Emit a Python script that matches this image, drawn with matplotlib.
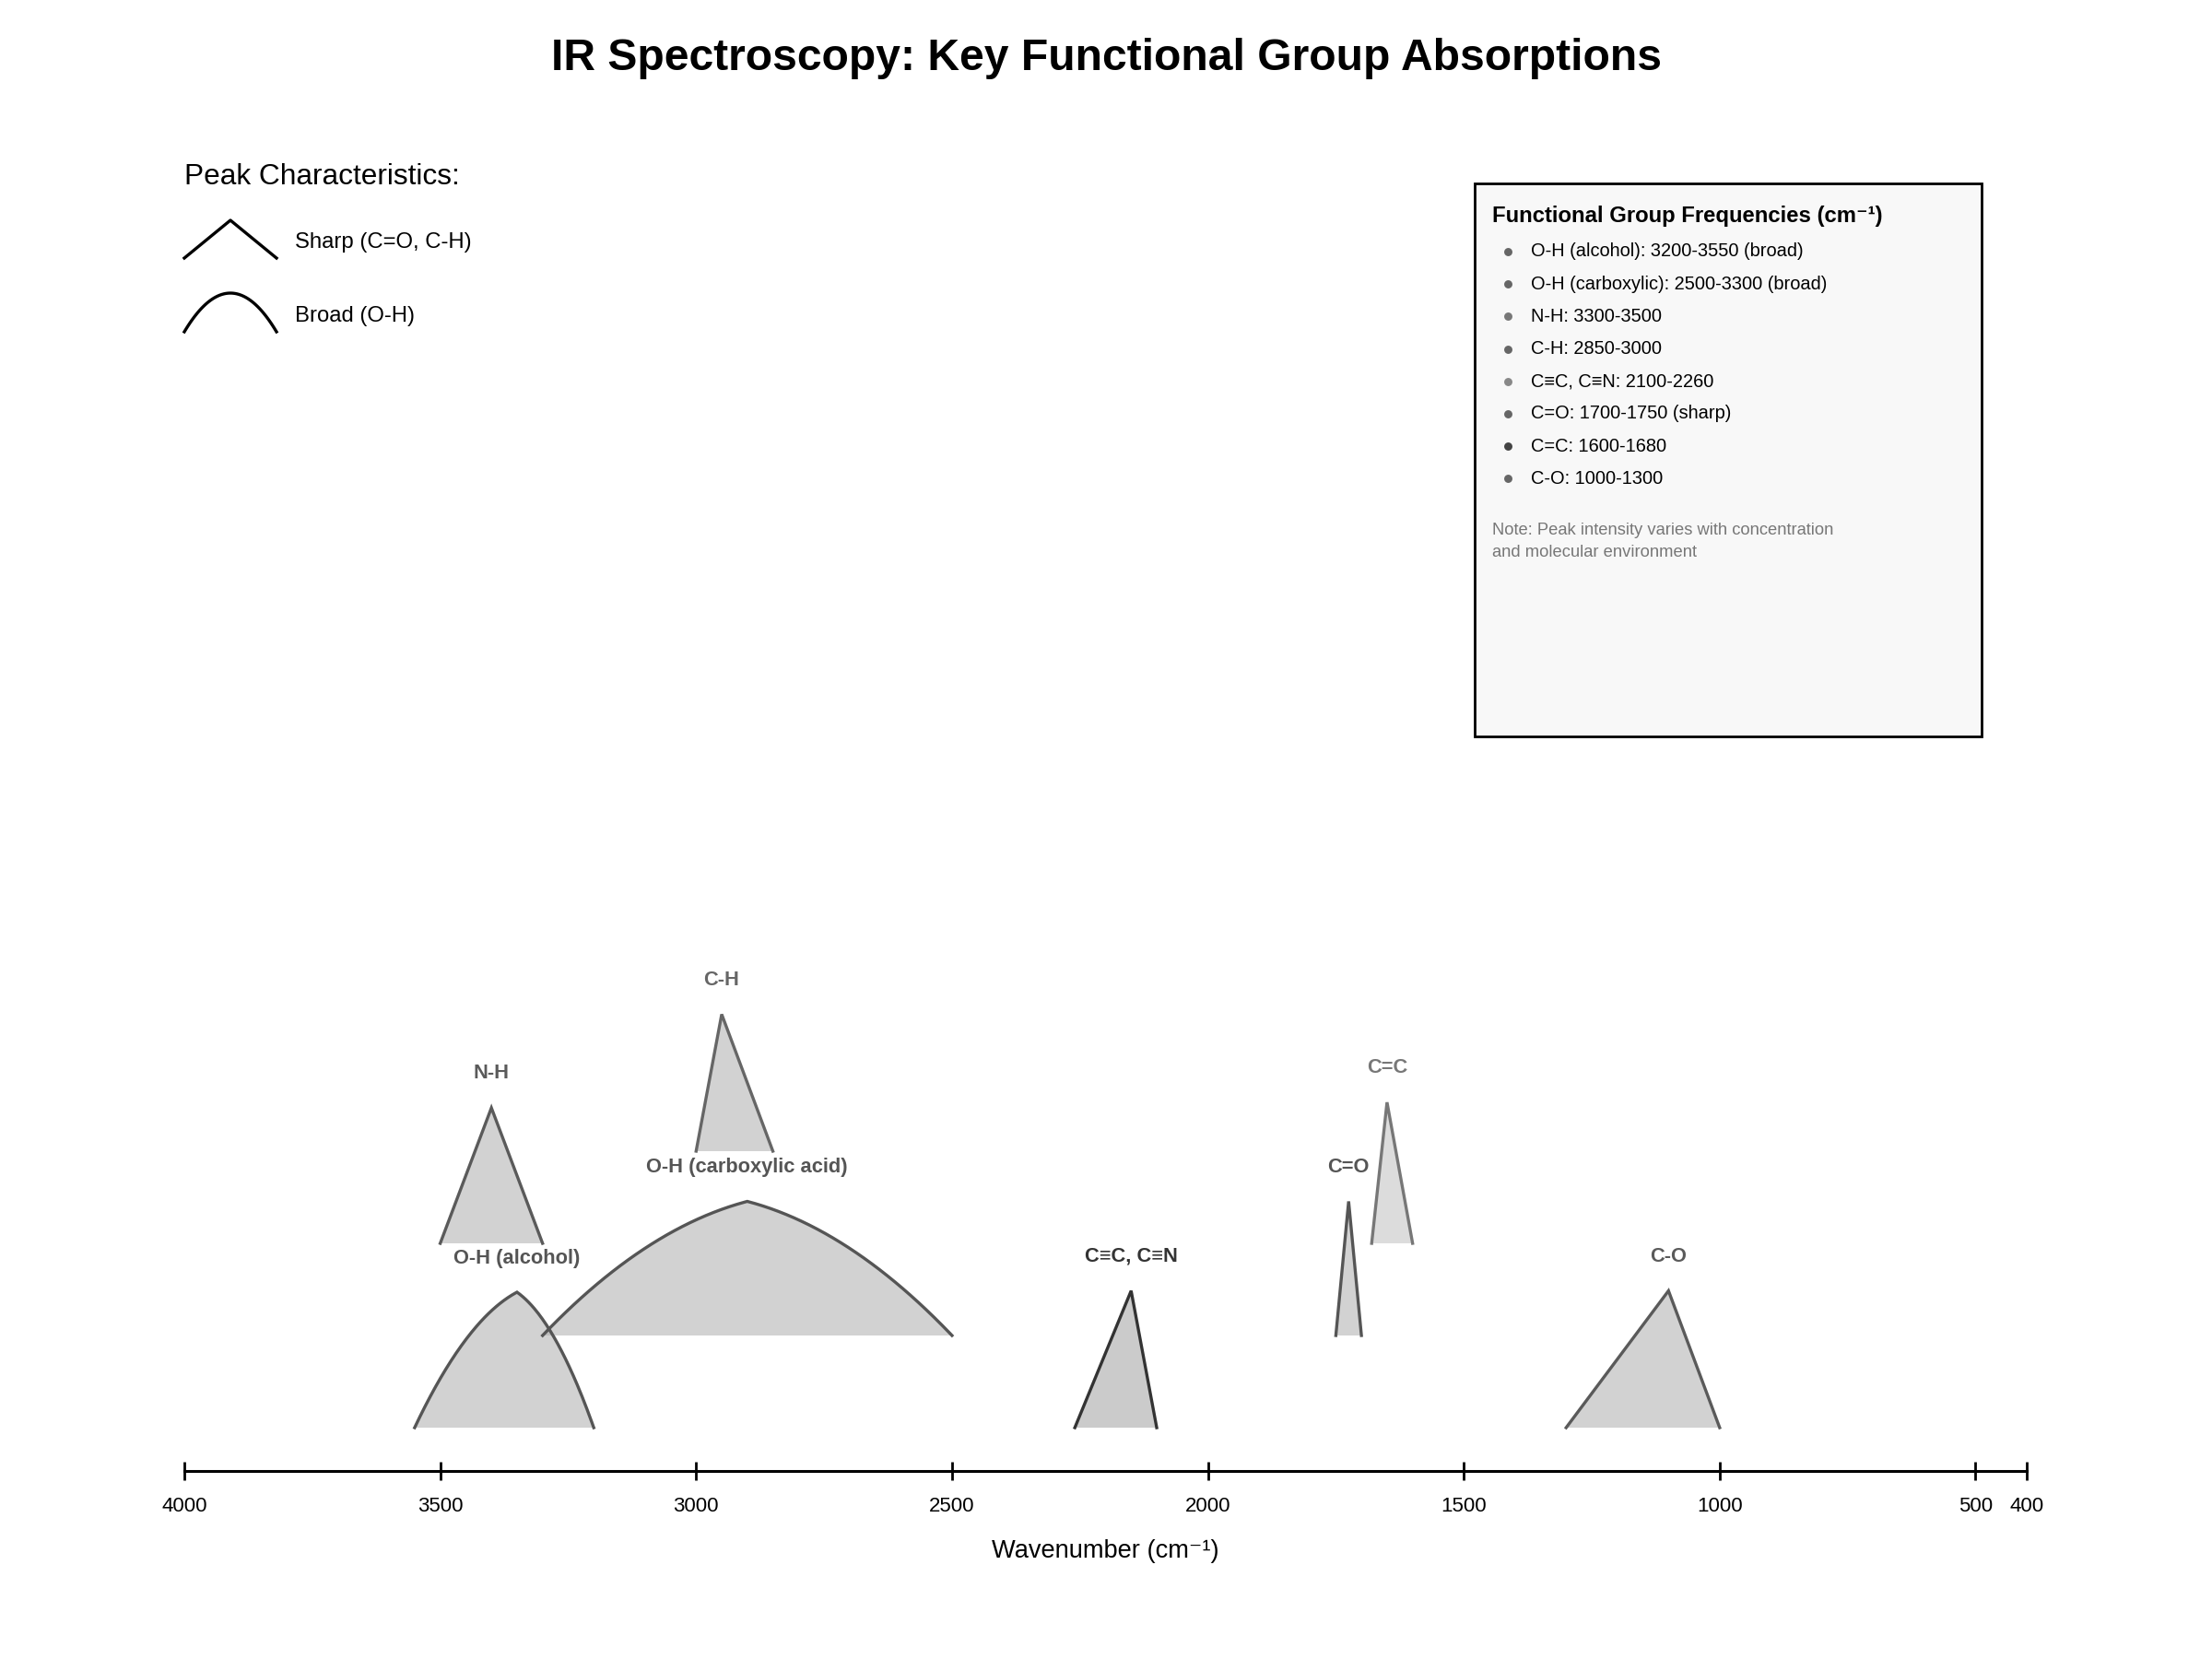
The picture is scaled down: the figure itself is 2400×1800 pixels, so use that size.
import numpy as np
import matplotlib.pyplot as plt
from matplotlib.patches import Rectangle

plt.rcParams['font.family'] = ['Liberation Sans', 'DejaVu Sans']

# absorption bands (cm-1)
names = ['O-H (alcohol)', 'O-H (carboxylic acid)', 'N-H', 'C-H',
         'C≡C, C≡N', 'C=O', 'C=C', 'C-O']
band_start = [3550, 3300, 3500, 3000, 2260, 1750, 1680, 1300]
band_end = [3200, 2500, 3300, 2850, 2100, 1700, 1600, 1000]
band_peak = [3350, 2900, 3400, 2950, 2150, 1725, 1650, 1100]
intensity = [0.98, 0.97, 0.98, 0.99, 0.99, 0.97, 1.02, 0.99]
is_broad = [True, True, False, False, False, False, False, False]
row = [0, 1, 2, 3, 0, 1, 2, 0]
stroke = ['#555555', '#555555', '#5a5a5a', '#666666',
          '#333333', '#555555', '#777777', '#5a5a5a']
fill = ['#a7a7a7', '#a7a7a7', '#a7a7a7', '#a7a7a7',
        '#999999', '#a7a7a7', '#bbbbbb', '#a7a7a7']

ref_items = ['O-H (alcohol): 3200-3550 (broad)',
             'O-H (carboxylic): 2500-3300 (broad)',
             'N-H: 3300-3500',
             'C-H: 2850-3000',
             'C≡C, C≡N: 2100-2260',
             'C=O: 1700-1750 (sharp)',
             'C=C: 1600-1680',
             'C-O: 1000-1300']
bullet_colors = ['#666666', '#666666', '#777777', '#666666',
                 '#888888', '#666666', '#444444', '#666666']

ticks = [4000, 3500, 3000, 2500, 2000, 1500, 1000, 500, 400]

fig = plt.figure(figsize=(12, 9), dpi=200)

# overlay in pixel coords for title, legend and info box
bg = fig.add_axes([0, 0, 1, 1])
bg.set_xlim(0, 2400)
bg.set_ylim(1800, 0)
bg.axis('off')

bg.text(1200, 64, 'IR Spectroscopy: Key Functional Group Absorptions',
        ha='center', va='center', fontsize=17.3, fontweight='bold')

# peak shape legend
bg.text(200, 192, 'Peak Characteristics:', ha='left', va='center', fontsize=11.4)
bg.plot([200, 250, 300], [280, 239, 280], color='black', lw=1.2)
s = np.linspace(0, 1, 50)
bg.plot(200 + 100 * s, 360 - 4 * 42 * s * (1 - s), color='black', lw=1.2)
bg.text(320, 263, 'Sharp (C=O, C-H)', ha='left', va='center', fontsize=8.6)
bg.text(320, 343, 'Broad (O-H)', ha='left', va='center', fontsize=8.6)

# reference box
bg.add_patch(Rectangle((1600, 199), 550, 600, facecolor='#f8f8f8',
                       edgecolor='black', lw=1.0))
bg.text(1619, 234, 'Functional Group Frequencies (cm⁻¹)', ha='left',
        va='center', fontsize=8.6, fontweight='bold')
for k, item in enumerate(ref_items):
    y = 273 + k * 35.2
    bg.plot(1636, y, 'o', color=bullet_colors[k], ms=2.2)
    bg.text(1661, y, item, ha='left', va='center', fontsize=7.2)
bg.text(1619, 576, 'Note: Peak intensity varies with concentration',
        ha='left', va='center', fontsize=6.6, color='#777777')
bg.text(1619, 600, 'and molecular environment',
        ha='left', va='center', fontsize=6.6, color='#777777')

# spectrum axis
ax = fig.add_axes([200 / 2400, 204 / 1800, 1999 / 2400, 600 / 1800])
ax.set_facecolor('none')
ax.set_xlim(4000, 400)
ax.set_ylim(0, 6)

for i in range(len(names)):
    base = 0.47 + row[i] * 1.0
    top = base + 1.5 * intensity[i]
    if is_broad[i]:
        t = np.linspace(0, 1, 80)
        f = 2 * t * (1 - t) * 0.8 + t ** 2
        lx = band_start[i] + (band_peak[i] - band_start[i]) * t
        ly = base + (top - base) * f
        rx = band_end[i] + (band_peak[i] - band_end[i]) * t[::-1]
        ry = base + (top - base) * f[::-1]
        xs = np.concatenate([lx, rx[1:]])
        ys = np.concatenate([ly, ry[1:]])
    else:
        xs = [band_start[i], band_peak[i], band_end[i]]
        ys = [base, top, base]
    ax.fill(xs, ys, color=fill[i], alpha=0.5, lw=0)
    ax.plot(xs, ys, color=stroke[i], lw=1.2, solid_joinstyle='miter')
    ax.text(band_peak[i], top + 0.37, names[i], ha='center', va='center',
            fontsize=7.9, fontweight='bold', color=stroke[i])

for side in ['top', 'right', 'left']:
    ax.spines[side].set_visible(False)
ax.spines['bottom'].set_linewidth(1.1)
ax.spines['bottom'].set_bounds(4000, 400)
ax.set_yticks([])
ax.set_xticks(ticks)
ax.set_xticklabels([str(v) for v in ticks])
ax.tick_params(axis='x', direction='inout', length=7.5, width=1.0,
               labelsize=8, pad=6.5)
ax.set_xlabel('Wavenumber (cm⁻¹)', fontsize=9.8, labelpad=9)

fig.savefig('out.png', dpi=200)
